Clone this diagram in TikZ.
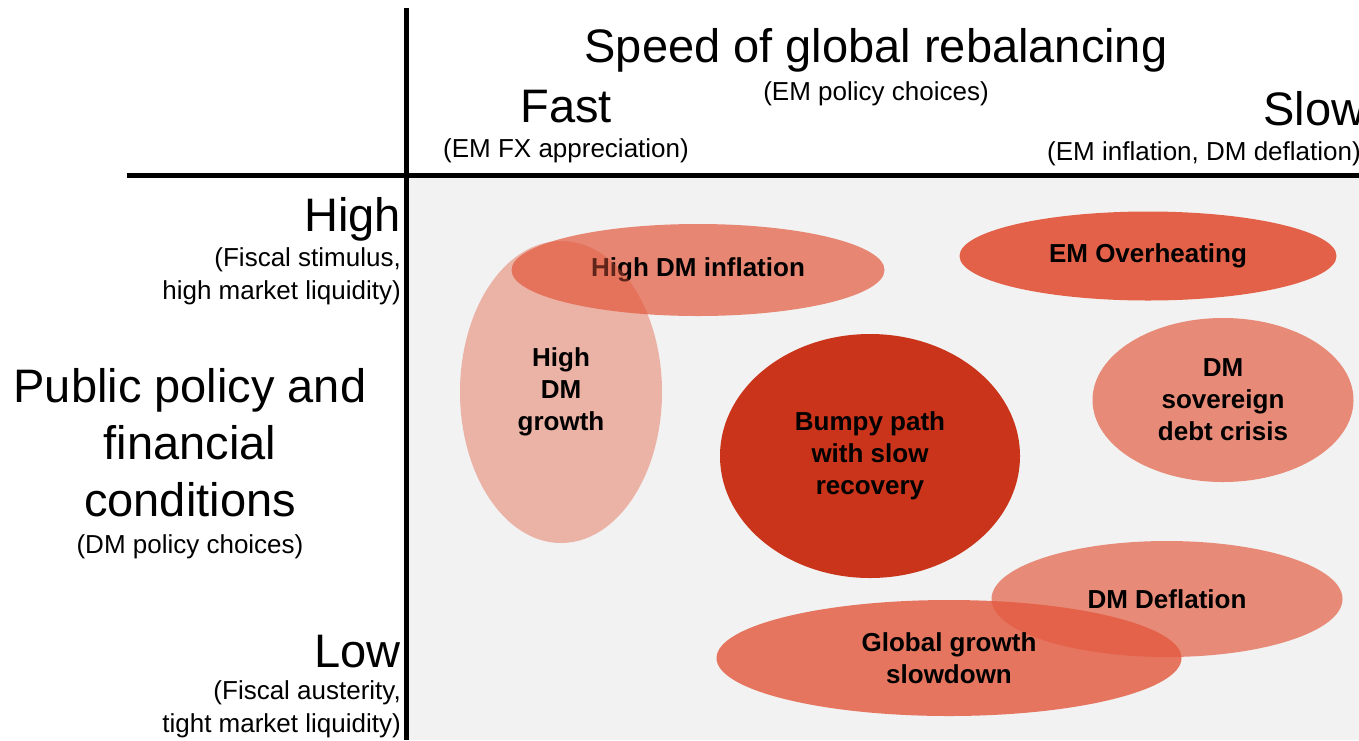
\documentclass[tikz,border=0pt]{standalone}
\usepackage{fontspec}
\setmainfont{Liberation Sans}
\usetikzlibrary{shapes.geometric}
\definecolor{zonered}{HTML}{E35A3F}
\definecolor{bumpred}{HTML}{C9341A}
\definecolor{panelgray}{HTML}{F2F2F2}

\begin{document}
\begin{tikzpicture}[x=1pt, y=-1pt,
    axis/.style={line width=5pt},
    big/.style={inner sep=0pt, font=\fontsize{47}{57}\selectfont},
    small/.style={inner sep=0pt, font=\fontsize{26}{33}\selectfont},
    zone/.style={ellipse, inner sep=0pt, fill=zonered, text opacity=1, align=center,
        font=\fontsize{26}{32}\selectfont\bfseries}]
    \useasboundingbox (0,0) rectangle (1359,740);
    \clip (0,0) rectangle (1359,740);
    \fill[panelgray] (406,175) rectangle (1359,740);

    % axes
    \coordinate (vtop) at (406,8);
    \coordinate (vbot) at (406,740);
    \coordinate (hleft) at (127,175);
    \coordinate (hright) at (1359,175);
    \draw[axis] (vtop) -- (vbot);
    \draw[axis] (hleft) -- (hright);

    % top labels
    \node[big, anchor=base] (speed) at (876,62) {Speed of global rebalancing};
    \node[small, anchor=base] (emchoice) at (876,100) {(EM policy choices)};
    \node[big, anchor=base] (fast) at (566,122) {Fast};
    \node[small, anchor=base] (fastnote) at (566,157) {(EM FX appreciation)};
    \node[big, anchor=base west] (slow) at (1263,125) {Slow};
    \node[small, anchor=base west] (slownote) at (1047,160) {(EM inflation, DM deflation)};

    % left labels
    \node[big, anchor=base east] (high) at (401,231) {High};
    \node[small, anchor=east, align=right] (highnote) at (401,276) {(Fiscal stimulus,\\high market liquidity)};
    \node[big, align=center] (dmpolicy) at (190,443) {Public policy and\\financial\\conditions};
    \node[small, anchor=base] (dmchoice) at (190,553) {(DM policy choices)};
    \node[big, anchor=base east] (low) at (401,667) {Low};
    \node[small, anchor=east, align=right] (lownote) at (401,709) {(Fiscal austerity,\\tight market liquidity)};

    % scenarios
    \node[zone, fill opacity=0.71, minimum width=373, minimum height=92] (inflation) at (698,270) {High DM inflation};
    \node[zone, fill opacity=0.42, minimum width=202, minimum height=302] (growth) at (561,392) {High\\DM\\growth};
    \node[zone, fill opacity=0.95, minimum width=377, minimum height=89] (overheat) at (1148,256) {EM Overheating};
    \node[zone, fill opacity=0.68, minimum width=261, minimum height=164] (sovereign) at (1223,400) {DM\\sovereign\\debt crisis};
    \node[zone, fill=bumpred, minimum width=300, minimum height=244] (bumpy) at (870,456) {Bumpy path\\with slow\\recovery};
    \node[zone, fill opacity=0.68, minimum width=351, minimum height=116] (deflation) at (1167,599) {DM Deflation};
    \node[zone, fill opacity=0.82, minimum width=465, minimum height=116] (slowdown) at (949,658) {Global growth\\slowdown};
\end{tikzpicture}
\end{document}
